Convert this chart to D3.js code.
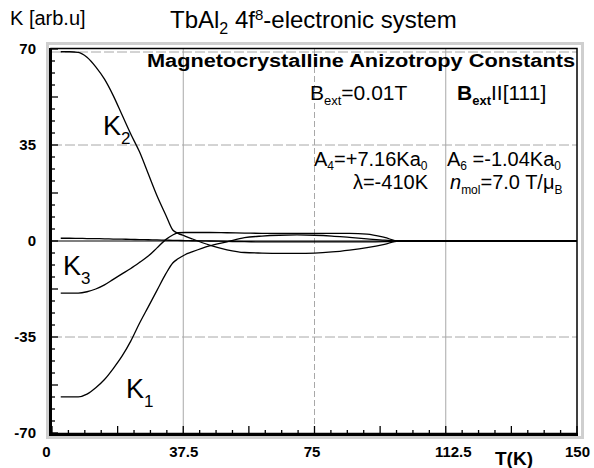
<!DOCTYPE html>
<html lang="en">
<head>
<meta charset="UTF-8">
<title>TbAl2 anisotropy constants</title>
<script src="https://d3js.org/d3.v7.min.js"></script>
<style>
    html, body {
        margin: 0;
        padding: 0;
        background: #fff;
    }
    svg {
        display: block;
        font-family: "Liberation Sans", Arial, sans-serif;
    }
</style>
</head>
<body>
<script>
    // temperature grid (K) shared by all curves
    const temps = [2.5, 5, 7.5, 10, 12.5, 15, 17.5, 20, 22.5, 25, 27.5, 30, 32.5, 34.5, 36, 38, 40,
        45, 50, 55, 60, 65, 70, 75, 80, 85, 90, 95, 99, 150];

    // anisotropy constants
    const k1 = [-56.8, -56.8, -56.8, -55.8, -53.5, -50.5, -46.5, -42, -36.5, -30, -24, -18, -12, -8, -6.5, -5, -4,
        -1.8, -0.3, 1.2, 1.8, 2.1, 2.2, 2.1, 1.8, 1.3, 0.8, 0.3, 0, 0];
    const k2 = [69, 69, 68.8, 67, 63.5, 59, 53, 46, 39, 32.5, 24.5, 16.5, 9.5, 4, 2.8, 1.8, 0.8,
        -1.5, -3.2, -4.2, -4.4, -4.5, -4.5, -4.4, -4, -3.3, -2.4, -1.2, 0, 0];
    const k3 = [-19, -19, -19, -18.5, -17.5, -16, -14, -12, -10, -7.8, -5.5, -2.5, 0.5, 2.2, 3, 3.1, 3.1,
        3.1, 3, 2.9, 2.8, 2.8, 2.8, 2.8, 2.8, 2.8, 2.5, 1.3, 0, 0];
    const k4 = [1.0, 1.0, 0.95, 0.9, 0.85, 0.8, 0.7, 0.65, 0.6, 0.5, 0.45, 0.4, 0.3, 0.25, 0.2, 0.15, 0.1,
        0, -0.15, -0.25, -0.3, -0.3, -0.3, -0.3, -0.3, -0.3, -0.3, -0.2, 0, 0];

    const xTicks = [0, 37.5, 75, 112.5, 150];
    const xTickLabels = ["0", "37.5", "75", "112.5", "150"];
    const yTicks = [70, 35, 0, -35, -70];
    const yTickLabels = ["70", "35", "0", "-35", "-70"];

    const width = 594, height = 468;

    const x = d3.scaleLinear().domain([0, 150]).range([52, 577]);
    const y = d3.scaleLinear().domain([-70, 70]).range([433, 49]);

    const svg = d3.select("body").append("svg")
        .attr("width", width)
        .attr("height", height);

    svg.append("rect").attr("width", width).attr("height", height).attr("fill", "#fff");

    // grey bevel round the plot
    svg.append("rect")
        .attr("x", 47.5).attr("y", 43.5)
        .attr("width", 535).attr("height", 394)
        .attr("fill", "none")
        .attr("stroke", "#cfcfcf")
        .attr("stroke-width", 3);

    // grid
    const grid = svg.append("g");
    grid.selectAll("line.h")
        .data([70, 35, -35])
        .join("line")
        .attr("x1", x(0)).attr("x2", x(150))
        .attr("y1", d => y(d) + (d === 70 ? 3 : 0)).attr("y2", d => y(d) + (d === 70 ? 3 : 0))
        .attr("stroke", "#a8a8a8")
        .attr("stroke-dasharray", "10,3");
    grid.selectAll("line.v")
        .data([37.5, 75, 112.5])
        .join("line")
        .attr("x1", d => x(d)).attr("x2", d => x(d))
        .attr("y1", y(70)).attr("y2", y(-70))
        .attr("stroke", "#a8a8a8")
        .attr("stroke-dasharray", d => d === 75 ? "6,3" : null);

    // minor ticks, inside the plot
    const xMinor = d3.range(0, 150.01, 37.5 / 8);
    svg.append("g").selectAll("line")
        .data(xMinor)
        .join("line")
        .attr("x1", d => x(d)).attr("x2", d => x(d))
        .attr("y1", y(-70))
        .attr("y2", (d, i) => y(-70) - (i % 4 === 0 ? 7 : 3))
        .attr("stroke", "#000")
        .attr("stroke-width", 1.3);
    const yMinor = d3.range(-70, 70.01, 35 / 8);
    svg.append("g").selectAll("line")
        .data(yMinor)
        .join("line")
        .attr("y1", d => y(d)).attr("y2", d => y(d))
        .attr("x1", x(0))
        .attr("x2", (d, i) => x(0) + (i % 4 === 0 ? 6 : 3))
        .attr("stroke", "#000")
        .attr("stroke-width", 1.3);

    // zero line
    svg.append("line")
        .attr("x1", x(0)).attr("x2", x(150))
        .attr("y1", y(0)).attr("y2", y(0))
        .attr("stroke", "#000")
        .attr("stroke-width", 1.2);

    // curves
    const line = d3.line()
        .x((d, i) => x(temps[i]))
        .y(d => y(d))
        .curve(d3.curveMonotoneX);

    svg.append("g").selectAll("path")
        .data([k4, k3, k1, k2])
        .join("path")
        .attr("d", line)
        .attr("fill", "none")
        .attr("stroke", "#000")
        .attr("stroke-width", 1.3);

    // plot frame
    svg.append("rect")
        .attr("x", x(0) - 1).attr("y", y(70) - 0.5)
        .attr("width", x(150) - x(0) + 1).attr("height", y(-70) - y(70) + 1)
        .attr("fill", "none")
        .attr("stroke", "#000")
        .attr("stroke-width", 1.5);
    svg.append("path")
        .attr("d", `M${x(0) - 1.5},${y(70) - 1}V${y(-70) + 1.5}H${x(150) + 1}`)
        .attr("fill", "none")
        .attr("stroke", "#000")
        .attr("stroke-width", 3);

    // axes labels
    const yAxis = d3.axisLeft(y).tickValues(yTicks).tickSize(0).tickPadding(0)
        .tickFormat((d, i) => yTickLabels[i]);
    svg.append("g")
        .attr("transform", "translate(36,0)")
        .call(yAxis)
        .call(g => g.select(".domain").remove())
        .selectAll("text")
        .attr("font-family", "Liberation Sans, Arial, sans-serif")
        .attr("font-size", 15)
        .attr("font-weight", "bold")
        .attr("fill", "#000");

    const xLabelNudge = [-6, 0, -3, 7, 0];
    const xAxis = d3.axisBottom(x).tickValues(xTicks).tickSize(0).tickPadding(0)
        .tickFormat((d, i) => xTickLabels[i]);
    svg.append("g")
        .attr("transform", "translate(0,446)")
        .call(xAxis)
        .call(g => g.select(".domain").remove())
        .selectAll("text")
        .attr("dx", (d, i) => xLabelNudge[i])
        .attr("font-family", "Liberation Sans, Arial, sans-serif")
        .attr("font-size", 15)
        .attr("font-weight", "bold")
        .attr("fill", "#000");

    svg.append("text")
        .attr("x", 495).attr("y", 465)
        .attr("font-size", 19)
        .attr("font-weight", "bold")
        .text("T(K)");

    svg.append("text")
        .attr("x", 10).attr("y", 25)
        .attr("font-size", 20)
        .text("K [arb.u]");

    // title
    const title = svg.append("text")
        .attr("x", 170).attr("y", 28)
        .attr("font-size", 24);
    title.append("tspan").text("TbAl");
    title.append("tspan").attr("font-size", 16).attr("dy", 6).text("2");
    title.append("tspan").attr("dy", -6).text(" 4f");
    title.append("tspan").attr("font-size", 15).attr("dy", -8).text("8");
    title.append("tspan").attr("dy", 8).text("-electronic system");

    // annotations
    svg.append("text")
        .attr("x", 147).attr("y", 67)
        .attr("font-size", 18)
        .attr("font-weight", "bold")
        .attr("textLength", 428)
        .attr("lengthAdjust", "spacingAndGlyphs")
        .text("Magnetocrystalline Anizotropy Constants");

    function subText(px, py, parts, size, anchor) {
        const t = svg.append("text")
            .attr("x", px).attr("y", py)
            .attr("font-size", size)
            .attr("text-anchor", anchor || "start");
        let shift = 0;
        parts.forEach(p => {
            const dy = (p.sub || 0) - shift;
            shift = p.sub || 0;
            const s = t.append("tspan").attr("dy", dy).text(p.t);
            if (p.size) s.attr("font-size", p.size);
            if (p.bold) s.attr("font-weight", "bold");
            if (p.italic) s.attr("font-style", "italic");
        });
        return t;
    }

    subText(310, 100, [{t: "B"}, {t: "ext", sub: 5, size: 13}, {t: "=0.01T"}], 21);
    subText(457, 100, [{t: "B", bold: true}, {t: "ext", sub: 5, size: 13, bold: true}, {t: "II[111]"}], 21);
    subText(314, 166, [{t: "A"}, {t: "4", sub: 4, size: 12}, {t: "=+7.16Ka"}, {t: "0", sub: 4, size: 12}], 20);
    subText(447, 166, [{t: "A"}, {t: "6", sub: 4, size: 12}, {t: " =-1.04Ka"}, {t: "0", sub: 4, size: 12}], 20);
    subText(428, 189, [{t: "λ=-410K"}], 20, "end");
    subText(450, 189, [{t: "n", italic: true}, {t: "mol", sub: 5, size: 12}, {t: "=7.0 T/μ"}, {t: "B", sub: 5, size: 12}], 20);

    // curve names
    subText(103, 135, [{t: "K"}, {t: "2", sub: 9, size: 17}], 27);
    subText(63, 275, [{t: "K"}, {t: "3", sub: 9, size: 17}], 27);
    subText(126, 398, [{t: "K"}, {t: "1", sub: 9, size: 17}], 27);
</script>
</body>
</html>
